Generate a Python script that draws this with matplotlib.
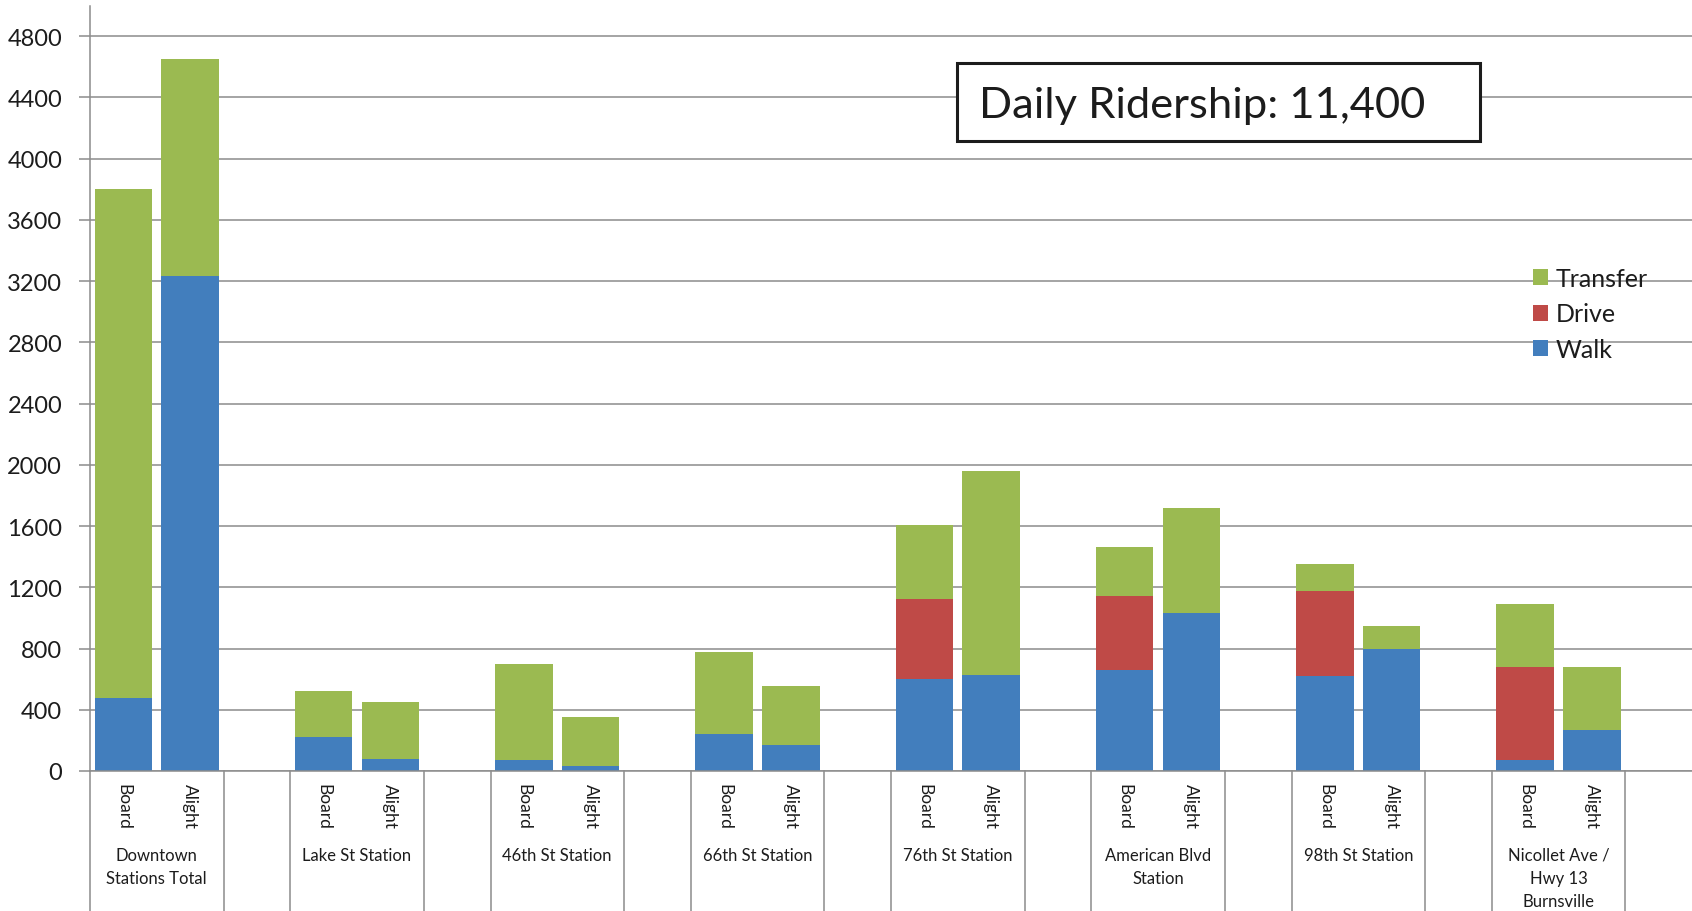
import matplotlib
matplotlib.use("Agg")
import matplotlib.pyplot as plt
import matplotlib.transforms as mtransforms
from matplotlib.patches import Rectangle
import numpy as np

plt.rcParams['font.family'] = ['Lato', 'DejaVu Sans']

stations = ["Downtown\nStations Total", "Lake St Station", "46th St Station", "66th St Station",
            "76th St Station", "American Blvd\nStation", "98th St Station",
            "Nicollet Ave /\nHwy 13\nBurnsville"]
directions = ["Board", "Alight"]

# one value per bar: each station Board then Alight
walk = np.array([475, 3230, 225, 80, 70, 30, 240, 170, 600, 630, 660, 1035, 618, 797, 70, 268])
drive = np.array([0, 0, 0, 0, 0, 0, 0, 0, 525, 0, 480, 0, 560, 0, 610, 0])
transfer = np.array([3325, 1420, 300, 370, 630, 325, 540, 385, 480, 1330, 320, 680, 175, 150, 410, 412])
yticks = list(range(0, 4801, 400))
title = "Daily Ridership: 11,400"

BLUE, RED, GREEN = '#427EBD', '#BF4A47', '#9BBA51'
GRID = '#8c8c8c'
TXT = '#1c1c1c'

W, H = 1692, 912
fig = plt.figure(figsize=(W / 100, H / 100), dpi=100)
ax = fig.add_axes([90 / W, 1 - 772 / H, 1 - 90 / W, (772 - 7) / H])

# 3 slots per station: Board, Alight, empty
n = len(stations)
x = np.array([3 * g + d + 0.5 for g in range(n) for d in range(2)])

bw = 0.86
ax.bar(x, walk, width=bw, color=BLUE, label='Walk')
ax.bar(x, drive, width=bw, bottom=walk, color=RED, label='Drive')
ax.bar(x, transfer, width=bw, bottom=walk + drive, color=GREEN, label='Transfer')

ax.set_xlim(0, 3 * n)
ax.set_ylim(0, 4996)
ax.set_yticks(yticks)
ax.tick_params(axis='y', labelsize=17, length=8, width=1.1, color=GRID, pad=12, labelcolor=TXT)
ax.yaxis.grid(True, color=GRID, lw=1.1)
ax.set_axisbelow(True)
for s in ['top', 'right']:
    ax.spines[s].set_visible(False)
for s in ['left', 'bottom']:
    ax.spines[s].set_color(GRID)
    ax.spines[s].set_linewidth(1.1)

ax.set_xticks(x, labels=directions * n, rotation=270)
ax.tick_params(axis='x', length=0, pad=9, labelsize=12.5, labelcolor=TXT)

# category separators below the axis
trans = mtransforms.blended_transform_factory(ax.transData, fig.transFigure)
for g in range(n):
    for s in (3 * g, 3 * g + 2):
        ax.plot([s, s], [0, 1 - 772 / H], transform=trans, clip_on=False, color=GRID, lw=1.1)

for g, name in enumerate(stations):
    ax.annotate(name, xy=(3 * g + 1, 0), xycoords=('data', 'axes fraction'),
                xytext=(0, -(848 - 772) * 0.72), textcoords='offset points',
                ha='center', va='top', fontsize=12, linespacing=1.55, color=TXT)

h, l = ax.get_legend_handles_labels()
ax.legend(h[::-1], l[::-1], loc='upper left', bbox_to_anchor=(1533 / W, 1 - 268 / H),
          bbox_transform=fig.transFigure, frameon=False, fontsize=18,
          handlelength=0.6, handleheight=0.6, handletextpad=0.3, labelspacing=0.5,
          borderaxespad=0, borderpad=0, labelcolor=TXT)

fig.add_artist(Rectangle((957 / W, 1 - 142 / H), (1480 - 957) / W, (142 - 64) / H,
                         transform=fig.transFigure, facecolor='white', edgecolor=TXT, lw=2.2))
fig.text(979 / W, 1 - 106 / H, title, fontsize=31.3, va='center', ha='left', color=TXT)

fig.savefig('out.png', dpi=100)
